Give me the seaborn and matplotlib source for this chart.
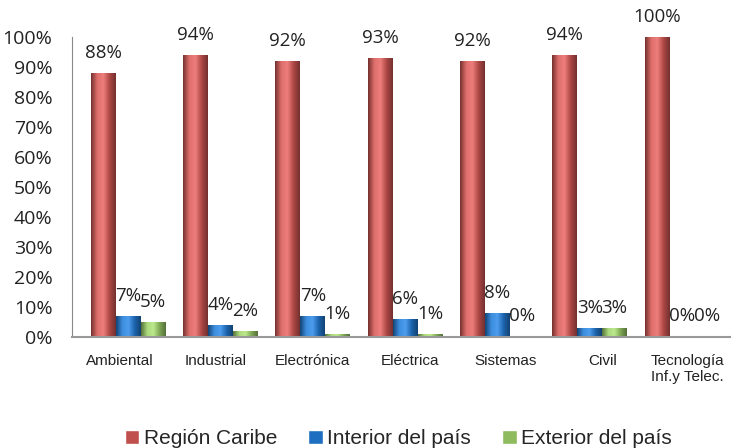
import numpy as np
import pandas as pd
import seaborn as sns
import matplotlib.pyplot as plt
from matplotlib.colors import LinearSegmentedColormap, to_rgb
from matplotlib.transforms import ScaledTranslation

carreras = ['Ambiental', 'Industrial', 'Electrónica', 'Eléctrica', 'Sistemas', 'Civil',
            'Tecnología\nInf.y Telec.']
region_caribe = [88, 94, 92, 93, 92, 94, 100]
interior_pais = [7, 4, 7, 6, 8, 3, 0]
exterior_pais = [5, 2, 1, 1, 0, 3, 0]
series = ['Región Caribe', 'Interior del país', 'Exterior del país']

data = pd.DataFrame({
    'carrera': carreras * 3,
    'serie': [series[0]] * 7 + [series[1]] * 7 + [series[2]] * 7,
    'valor': region_caribe + interior_pais + exterior_pais,
})

sns.set_style("white")
plt.rcParams['font.family'] = ['Liberation Sans', 'DejaVu Sans']

fig = plt.figure(figsize=(7.31, 4.48), dpi=100)
ax = fig.add_axes([72 / 731, 111 / 448, 659 / 731, 300 / 448])

colores = ['#C0504D', '#1F6FC0', '#8DBB5E']
sns.barplot(x='carrera', y='valor', hue='serie', data=data, palette=colores,
            width=0.81, ax=ax, saturation=1, legend=True)

ax.set_ylim(0, 100)
ax.set_xlim(-0.607, 6.53)

# cylinder-like shading on each bar
grad = np.linspace(0, 1, 64).reshape(1, -1)
for cont, col in zip(ax.containers, colores):
    c = np.array(to_rgb(col))
    cmap = LinearSegmentedColormap.from_list(
        'cyl', [c * 0.62, np.minimum(c + 0.12, 1), np.minimum(c + 0.18, 1), c * 0.9, c * 0.6])
    for p in cont.patches:
        x0, y0 = p.get_x(), p.get_y()
        w, h = p.get_width(), p.get_height()
        if h <= 0:
            h = 0.4
        im = ax.imshow(grad, cmap=cmap, aspect='auto', extent=(x0, x0 + w, y0, y0 + h),
                       zorder=p.get_zorder() + 0.1)
        p.set_height(h)
        im.set_clip_path(p)

for cont in ax.containers:
    ax.bar_label(cont, labels=[f'{v:.0f}%' for v in cont.datavalues], padding=8,
                 fontsize=13.5, color='#222222', family=['Open Sans', 'DejaVu Sans'],
                 clip_on=False)

ax.set_ylim(0, 100)
ax.set_xlim(-0.607, 6.53)
ax.set_yticks(range(0, 101, 10))
ax.set_yticklabels([f'{t}%' for t in range(0, 101, 10)], fontsize=14,
                   family=['Open Sans', 'DejaVu Sans'], color='#222222')
ax.tick_params(axis='y', length=0, pad=14)
ax.tick_params(axis='x', length=0, pad=12, labelsize=11, labelcolor='#222222')
ax.set_xlabel('')
ax.set_ylabel('')
for s in ['top', 'right']:
    ax.spines[s].set_visible(False)
ax.spines['left'].set_color('#888888')
ax.spines['bottom'].set_color('#999999')
ax.spines['bottom'].set_linewidth(1.5)

# category labels drift right of the bar groups in the original (3D perspective)
label_shift_px = [-8, -5, 0, 5, 8, 13, 5]
for lab, dx in zip(ax.get_xticklabels(), label_shift_px):
    lab.set_transform(lab.get_transform() + ScaledTranslation(dx / 100, 0, fig.dpi_scale_trans))

ax.legend(loc='upper center', bbox_to_anchor=(0.495, -0.245), ncol=3, frameon=False,
          fontsize=15, handlelength=0.7, handleheight=0.7, handletextpad=0.2,
          columnspacing=1.5)

plt.savefig('out.png', dpi=100)
